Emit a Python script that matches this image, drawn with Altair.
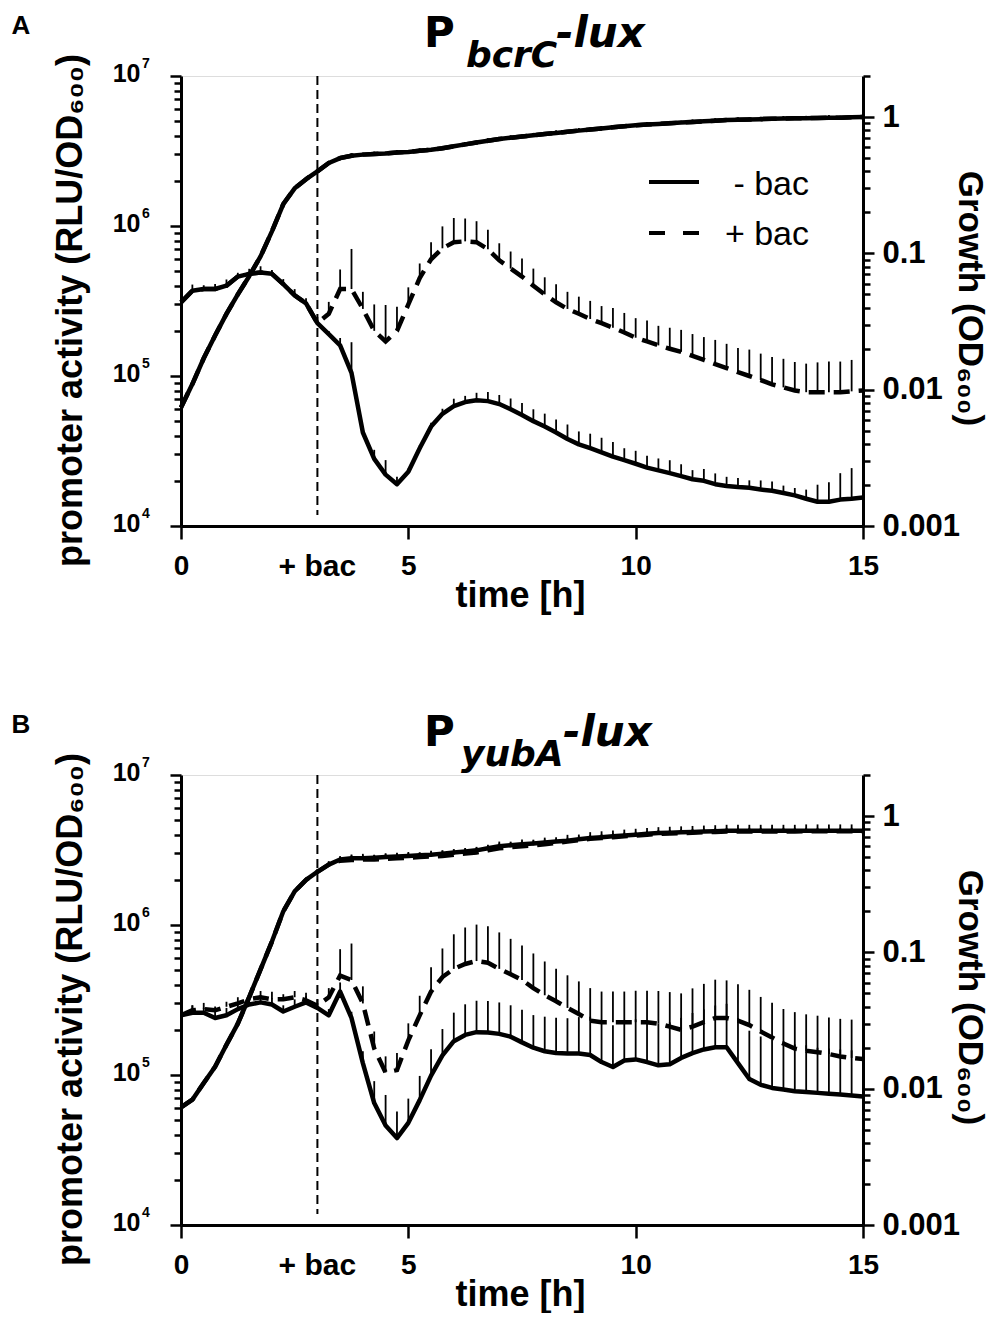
import altair as alt
import pandas as pd

# ---------------- data ----------------
TIME = [0, 0.25, 0.5, 0.75, 1, 1.25, 1.5, 1.75, 2, 2.25, 2.5, 2.75,
        3, 3.25, 3.5, 3.75, 4, 4.25, 4.5, 4.75, 5, 5.25, 5.5, 5.75,
        6, 6.25, 6.5, 6.75, 7, 7.25, 7.5, 7.75, 8, 8.25, 8.5, 8.75,
        9, 9.25, 9.5, 9.75, 10, 10.25, 10.5, 10.75, 11, 11.25, 11.5, 11.75,
        12, 12.25, 12.5, 12.75, 13, 13.25, 13.5, 13.75, 14, 14.25, 14.5, 14.75, 15]

CONDITIONS = ["- bac", "+ bac"]
ADD_TIME = 3
ADD_LABEL = "+ bac"

# Panel A  (P_bcrC-lux)
A_ACT_MINUS = [3.1e5, 3.7e5, 3.8e5, 3.8e5, 4.0e5, 4.6e5, 4.8e5, 4.9e5, 4.8e5, 4.1e5, 3.45e5, 3.05e5,
               2.25e5, 1.9e5, 1.6e5, 1.05e5, 4.2e4, 2.8e4, 2.2e4, 1.9e4, 2.3e4, 3.3e4, 4.6e4, 5.6e4,
               6.3e4, 6.7e4, 6.9e4, 6.8e4, 6.5e4, 6.0e4, 5.5e4, 5.0e4, 4.6e4, 4.2e4, 3.8e4, 3.5e4,
               3.3e4, 3.1e4, 2.9e4, 2.75e4, 2.6e4, 2.45e4, 2.35e4, 2.25e4, 2.15e4, 2.05e4, 2.0e4, 1.9e4,
               1.85e4, 1.82e4, 1.8e4, 1.75e4, 1.72e4, 1.66e4, 1.6e4, 1.52e4, 1.45e4, 1.45e4, 1.5e4, 1.52e4, 1.55e4]
A_ACT_PLUS = [3.1e5, 3.7e5, 3.8e5, 3.8e5, 4.0e5, 4.6e5, 4.8e5, 4.9e5, 4.8e5, 4.1e5, 3.45e5, 3.05e5,
              2.25e5, 2.6e5, 3.8e5, 3.8e5, 2.8e5, 2.0e5, 1.7e5, 2.0e5, 3.0e5, 4.5e5, 6.0e5, 7.1e5,
              7.8e5, 7.9e5, 7.8e5, 7.0e5, 5.9e5, 5.2e5, 4.6e5, 4.0e5, 3.5e5, 3.1e5, 2.8e5, 2.6e5,
              2.4e5, 2.25e5, 2.1e5, 1.95e5, 1.8e5, 1.7e5, 1.6e5, 1.52e5, 1.45e5, 1.36e5, 1.28e5, 1.2e5,
              1.13e5, 1.06e5, 1.0e5, 9.4e4, 8.8e4, 8.4e4, 8.0e4, 7.8e4, 7.8e4, 7.8e4, 7.8e4, 7.9e4, 8.0e4]
A_OD_MINUS = [0.0074, 0.011, 0.017, 0.025, 0.036, 0.05, 0.068, 0.095, 0.145, 0.23, 0.3, 0.35,
              0.40, 0.46, 0.50, 0.52, 0.53, 0.535, 0.54, 0.55, 0.555, 0.565, 0.575, 0.59,
              0.61, 0.63, 0.65, 0.67, 0.69, 0.705, 0.72, 0.735, 0.75, 0.765, 0.78, 0.795,
              0.81, 0.825, 0.84, 0.855, 0.87, 0.88, 0.89, 0.90, 0.91, 0.92, 0.93, 0.94,
              0.95, 0.955, 0.96, 0.965, 0.97, 0.975, 0.98, 0.98, 0.985, 0.99, 0.99, 0.995, 1.0]
A_OD_PLUS = A_OD_MINUS  # the two growth curves coincide in panel A

# upper error bar as ratio (top / mean)
A_ACT_MINUS_ERR = [1.08, 1.1, 1.06, 1.08, 1.1, 1.06, 1.08, 1.1, 1.06, 1.08, 1.1, 1.08,
                   1.1, 1.05, 1.12, 1.6, 1.05, 1.15, 1.25, 1.12, 1.05, 1.05, 1.06, 1.08,
                   1.12, 1.1, 1.12, 1.15, 1.15, 1.18, 1.2, 1.2, 1.22, 1.22, 1.25, 1.22,
                   1.25, 1.25, 1.25, 1.2, 1.22, 1.2, 1.2, 1.22, 1.2, 1.15, 1.2, 1.18,
                   1.15, 1.15, 1.12, 1.15, 1.15, 1.12, 1.12, 1.15, 1.3, 1.35, 1.5, 1.6, 1.3]
A_ACT_PLUS_ERR = [1.0, 1.0, 1.0, 1.0, 1.0, 1.0, 1.0, 1.0, 1.0, 1.0, 1.0, 1.0,
                  1.0, 1.2, 1.35, 1.85, 1.3, 1.5, 1.75, 1.45, 1.3, 1.25, 1.3, 1.4,
                  1.45, 1.42, 1.38, 1.35, 1.3, 1.3, 1.32, 1.3, 1.3, 1.32, 1.3, 1.3,
                  1.32, 1.3, 1.35, 1.35, 1.35, 1.38, 1.35, 1.38, 1.4, 1.4, 1.42, 1.45,
                  1.45, 1.45, 1.5, 1.5, 1.52, 1.55, 1.55, 1.55, 1.58, 1.6, 1.6, 1.62, 1.6]
A_OD_MINUS_ERR = [1.02, 1.02, 1.02, 1.02, 1.02, 1.02, 1.02, 1.02, 1.02, 1.02, 1.02, 1.02,
                  1.03, 1.03, 1.03, 1.04, 1.03, 1.04, 1.03, 1.04, 1.03, 1.04, 1.03, 1.04,
                  1.03, 1.04, 1.03, 1.04, 1.03, 1.04, 1.03, 1.04, 1.03, 1.04, 1.03, 1.04,
                  1.03, 1.04, 1.03, 1.04, 1.03, 1.04, 1.03, 1.04, 1.03, 1.04, 1.03, 1.04,
                  1.03, 1.04, 1.03, 1.04, 1.03, 1.04, 1.03, 1.04, 1.03, 1.04, 1.03, 1.04, 1.03]
A_OD_PLUS_ERR = A_OD_MINUS_ERR

# Panel B  (P_yubA-lux)
B_ACT_MINUS = [2.5e5, 2.6e5, 2.6e5, 2.4e5, 2.5e5, 2.75e5, 2.95e5, 3.05e5, 2.95e5, 2.65e5, 2.85e5, 3.05e5,
               2.8e5, 2.5e5, 3.6e5, 2.4e5, 1.2e5, 6.5e4, 4.6e4, 3.8e4, 4.8e4, 6.8e4, 9.9e4, 1.35e5,
               1.68e5, 1.85e5, 1.93e5, 1.92e5, 1.88e5, 1.8e5, 1.65e5, 1.52e5, 1.44e5, 1.4e5, 1.39e5, 1.39e5,
               1.36e5, 1.22e5, 1.13e5, 1.25e5, 1.27e5, 1.22e5, 1.16e5, 1.18e5, 1.3e5, 1.4e5, 1.48e5, 1.53e5,
               1.53e5, 1.2e5, 9.4e4, 8.6e4, 8.2e4, 8.0e4, 7.8e4, 7.7e4, 7.6e4, 7.5e4, 7.4e4, 7.3e4, 7.2e4]
B_ACT_PLUS = [2.5e5, 2.7e5, 2.75e5, 2.7e5, 2.85e5, 3.0e5, 3.2e5, 3.3e5, 3.2e5, 3.2e5, 3.3e5, 3.15e5,
              2.9e5, 3.3e5, 4.6e5, 4.3e5, 3.0e5, 1.5e5, 1.04e5, 1.08e5, 1.7e5, 2.5e5, 3.6e5, 4.5e5,
              5.1e5, 5.5e5, 5.75e5, 5.6e5, 5.1e5, 4.7e5, 4.3e5, 3.8e5, 3.4e5, 3.1e5, 2.8e5, 2.55e5,
              2.3e5, 2.25e5, 2.25e5, 2.25e5, 2.25e5, 2.25e5, 2.2e5, 2.1e5, 2.0e5, 2.1e5, 2.25e5, 2.4e5,
              2.4e5, 2.3e5, 2.15e5, 1.95e5, 1.78e5, 1.62e5, 1.5e5, 1.45e5, 1.42e5, 1.38e5, 1.33e5, 1.3e5, 1.28e5]
B_OD_MINUS = [0.0073, 0.0083, 0.011, 0.0145, 0.021, 0.03, 0.047, 0.075, 0.12, 0.2, 0.28, 0.34,
              0.39, 0.44, 0.48, 0.49, 0.49, 0.495, 0.5, 0.505, 0.51, 0.515, 0.52, 0.53,
              0.54, 0.55, 0.56, 0.58, 0.60, 0.61, 0.62, 0.63, 0.64, 0.65, 0.66, 0.675,
              0.69, 0.70, 0.71, 0.72, 0.73, 0.74, 0.75, 0.755, 0.76, 0.765, 0.77, 0.775,
              0.78, 0.78, 0.78, 0.78, 0.78, 0.78, 0.78, 0.78, 0.78, 0.78, 0.78, 0.78, 0.78]
B_OD_PLUS = [0.0073, 0.0083, 0.011, 0.0145, 0.021, 0.03, 0.047, 0.075, 0.12, 0.2, 0.28, 0.34,
             0.39, 0.44, 0.47, 0.475, 0.48, 0.48, 0.485, 0.49, 0.495, 0.50, 0.505, 0.51,
             0.52, 0.53, 0.54, 0.56, 0.58, 0.59, 0.60, 0.61, 0.62, 0.635, 0.65, 0.665,
             0.68, 0.69, 0.70, 0.71, 0.72, 0.73, 0.74, 0.745, 0.75, 0.755, 0.76, 0.765,
             0.77, 0.77, 0.77, 0.77, 0.77, 0.77, 0.77, 0.775, 0.775, 0.775, 0.775, 0.775, 0.775]
B_ACT_MINUS_ERR = [1.1, 1.12, 1.08, 1.1, 1.12, 1.1, 1.08, 1.12, 1.1, 1.1, 1.12, 1.1,
                   1.08, 1.1, 1.15, 1.1, 1.2, 1.4, 1.6, 1.5, 1.45, 1.45, 1.5, 1.5,
                   1.55, 1.6, 1.62, 1.62, 1.62, 1.62, 1.65, 1.65, 1.7, 1.72, 1.72, 1.75,
                   1.8, 1.85, 1.9, 1.85, 1.85, 1.85, 1.9, 1.9, 1.85, 1.85, 1.85, 1.9,
                   1.95, 2.0, 2.1, 2.1, 2.1, 2.1, 2.05, 2.05, 2.0, 2.0, 2.0, 2.0, 1.95]
B_ACT_PLUS_ERR = [1.05, 1.08, 1.1, 1.06, 1.08, 1.1, 1.08, 1.1, 1.12, 1.08, 1.1, 1.12,
                  1.1, 1.15, 1.5, 1.75, 1.3, 1.3, 1.28, 1.3, 1.3, 1.35, 1.45, 1.55,
                  1.7, 1.75, 1.75, 1.75, 1.75, 1.72, 1.7, 1.7, 1.68, 1.65, 1.65, 1.65,
                  1.65, 1.6, 1.6, 1.6, 1.62, 1.62, 1.65, 1.7, 1.75, 1.8, 1.8, 1.8,
                  1.78, 1.75, 1.72, 1.7, 1.7, 1.7, 1.75, 1.75, 1.75, 1.75, 1.78, 1.8, 1.8]
B_OD_MINUS_ERR = [1.02, 1.02, 1.02, 1.02, 1.02, 1.02, 1.02, 1.02, 1.02, 1.02, 1.02, 1.03,
                  1.04, 1.05, 1.05, 1.05, 1.05, 1.05, 1.05, 1.05, 1.05, 1.05, 1.05, 1.05,
                  1.05, 1.05, 1.05, 1.05, 1.05, 1.05, 1.05, 1.05, 1.05, 1.05, 1.05, 1.05,
                  1.05, 1.05, 1.05, 1.05, 1.05, 1.05, 1.05, 1.05, 1.05, 1.05, 1.05, 1.05,
                  1.05, 1.05, 1.05, 1.05, 1.05, 1.05, 1.05, 1.05, 1.05, 1.05, 1.05, 1.05, 1.05]
B_OD_PLUS_ERR = [1.02, 1.02, 1.02, 1.02, 1.02, 1.02, 1.02, 1.02, 1.02, 1.02, 1.03, 1.04,
                 1.05, 1.06, 1.08, 1.1, 1.1, 1.08, 1.1, 1.1, 1.1, 1.08, 1.1, 1.1,
                 1.1, 1.1, 1.1, 1.1, 1.12, 1.1, 1.12, 1.1, 1.12, 1.1, 1.12, 1.1,
                 1.12, 1.12, 1.12, 1.12, 1.12, 1.12, 1.12, 1.12, 1.12, 1.12, 1.12, 1.12,
                 1.12, 1.12, 1.12, 1.12, 1.12, 1.12, 1.12, 1.12, 1.12, 1.12, 1.12, 1.12, 1.12]

LEFT_TICK_VALUES = [10000, 100000, 1000000, 10000000]
LEFT_TICK_LABELS = ["10", "10", "10", "10"]
LEFT_TICK_EXPONENTS = ["4", "5", "6", "7"]
RIGHT_TICK_VALUES = [0.001, 0.01, 0.1, 1]
RIGHT_TICK_LABELS = ["0.001", "0.01", "0.1", "1"]
X_TICKS = [0, 5, 10, 15]

TITLE_A = ["P", "bcrC", "-lux"]
TITLE_B = ["P", "yubA", "-lux"]
X_TITLE = "time [h]"
LEFT_TITLE = "promoter activity (RLU/OD\u2086\u2080\u2080)"
RIGHT_TITLE = "Growth (OD\u2086\u2080\u2080)"

# ---------------- build ----------------
W, H = 682, 450
FONT = "Liberation Sans"


def panel_df(act_m, act_p, od_m, od_p, e_am, e_ap, e_om, e_op):
    rows = []
    for cond, act, od, ea, eo in [(CONDITIONS[0], act_m, od_m, e_am, e_om),
                                  (CONDITIONS[1], act_p, od_p, e_ap, e_op)]:
        assert len(act) == len(TIME) == len(od) == len(ea) == len(eo)
        for t, a, o, fa, fo in zip(TIME, act, od, ea, eo):
            rows.append(dict(t=t, cond=cond, act=a, act_hi=a * fa, od=o, od_hi=o * fo))
    return pd.DataFrame(rows)


def minor_values(decades):
    vals = []
    for e in decades:
        for k in range(1, 10):
            vals.append(round(k * 10.0 ** e, 6))
    return vals


def label_expr(values, labels):
    expr = "''"
    for v, l in reversed(list(zip(values, labels))):
        expr = f"datum.value == {v} ? '{l}' : ({expr})"
    return expr


def major_test(values):
    return " || ".join(f"datum.value == {v}" for v in values)


left_axis = alt.Axis(
    orient="left", values=minor_values([4, 5, 6]) + [10000000],
    labelExpr=label_expr(LEFT_TICK_VALUES, LEFT_TICK_LABELS),
    grid=False, domainWidth=3, domainColor="black", tickColor="black", tickWidth=2.5,
    tickSize={"condition": {"test": major_test(LEFT_TICK_VALUES), "value": 11}, "value": 7},
    labelFont=FONT, labelFontSize=25, labelFontWeight="bold", labelColor="black",
    labelPadding=30, labelOffset=-3, labelFlush=False, labelOverlap=False,
    title=LEFT_TITLE, titleFont=FONT, titleFontSize=36, titleFontWeight="bold", titleColor="black",
    titleAngle=270, titleX=-100, titleY=234, titleAlign="center", titleBaseline="alphabetic",
)
right_axis = alt.Axis(
    orient="right", values=minor_values([-3, -2, -1]) + [1, 2],
    labelExpr=label_expr(RIGHT_TICK_VALUES, RIGHT_TICK_LABELS),
    grid=False, domainWidth=3, domainColor="black", tickColor="black", tickWidth=2.5,
    tickSize={"condition": {"test": major_test(RIGHT_TICK_VALUES), "value": 11}, "value": 7},
    labelFont=FONT, labelFontSize=31, labelFontWeight="bold", labelColor="black",
    labelPadding=8, labelFlush=False, labelOverlap=False,
    title=RIGHT_TITLE, titleFont=FONT, titleFontSize=35, titleFontWeight="bold", titleColor="black",
    titleAngle=90, titleX=95, titleY=222, titleAlign="center", titleBaseline="alphabetic",
)
x_axis = alt.Axis(
    values=X_TICKS, grid=False, domainWidth=3, domainColor="black", tickColor="black",
    tickWidth=2.5, tickSize=13, labelFont=FONT, labelFontSize=28, labelFontWeight="bold",
    labelColor="black", labelBaseline="alphabetic", labelPadding=35, labelFlush=False,
    title=X_TITLE, titleFont=FONT, titleFontSize=36, titleFontWeight="bold", titleColor="black",
    titleX=339, titleY=80, titleAlign="center", titleBaseline="alphabetic",
)

X = alt.X("t:Q", scale=alt.Scale(domain=[0, 15], nice=False, zero=False), axis=x_axis)
Y_ACT = alt.Y("act:Q", scale=alt.Scale(type="log", domain=[1e4, 1e7], nice=False), axis=left_axis)
Y_OD = alt.Y("od:Q", scale=alt.Scale(type="log", domain=[0.001, 2], nice=False), axis=right_axis)

DASH = [16, 9]
LW = 4.5


def txt(label, x, y, size, weight="bold", style="normal", font=FONT, align="left", baseline="alphabetic"):
    return alt.Chart(pd.DataFrame({"label": [label]})).mark_text(
        align=align, baseline=baseline, fontSize=size, fontWeight=weight, fontStyle=style,
        font=font, color="black").encode(text="label:N", x=alt.value(x), y=alt.value(y))


def panel(df, letter, title, title_x, show_legend):
    base = alt.Chart(df)
    solid = alt.datum.cond == CONDITIONS[0]
    dashed = alt.datum.cond == CONDITIONS[1]
    exp_df = pd.DataFrame({"act": LEFT_TICK_VALUES, "label": LEFT_TICK_EXPONENTS})
    act = alt.layer(
        base.mark_rule(strokeWidth=1.8, color="black").encode(x=X, y=Y_ACT, y2=alt.Y2("act_hi")),
        base.transform_filter(solid).mark_line(strokeWidth=LW, color="black", strokeJoin="round").encode(x=X, y=Y_ACT),
        base.transform_filter(dashed).mark_line(strokeWidth=LW, color="black", strokeDash=DASH).encode(x=X, y=Y_ACT),
        alt.Chart(exp_df).mark_text(align="left", baseline="alphabetic", dy=-8, fontSize=14,
                                    fontWeight="bold", font=FONT, color="black").encode(
            x=alt.value(-39), y=Y_ACT, text="label:N"),
    )
    od = alt.layer(
        base.mark_rule(strokeWidth=1.8, color="black").encode(x=X, y=Y_OD, y2=alt.Y2("od_hi")),
        base.transform_filter(solid).mark_line(strokeWidth=LW, color="black", strokeJoin="round").encode(x=X, y=Y_OD),
        base.transform_filter(dashed).mark_line(strokeWidth=LW, color="black", strokeDash=DASH).encode(x=X, y=Y_OD),
    )
    add_df = pd.DataFrame({"t": [ADD_TIME], "label": [ADD_LABEL]})
    vline = alt.Chart(add_df).mark_rule(strokeDash=[9, 5], strokeWidth=2, color="black").encode(
        x=X, y=alt.value(0), y2=alt.value(439))
    add_lbl = alt.Chart(add_df).mark_text(fontSize=30, fontWeight="bold", font=FONT, color="black",
                                          align="center", baseline="alphabetic").encode(
        x=X, y=alt.value(H + 50), text="label:N")
    layers = [act, od, vline, add_lbl,
              txt(letter, -160, -50, 26, align="center", baseline="middle"),
              txt(title[0], title_x[0], -29, 42, font="DejaVu Sans"),
              txt(title[1], title_x[1], -9, 36, style="italic", font="DejaVu Sans"),
              txt(title[2], title_x[2], -29, 42, style="italic", font="DejaVu Sans")]
    if show_legend:
        leg = pd.DataFrame({"label": CONDITIONS})
        layers += [
            alt.Chart(leg.iloc[[0]]).mark_rule(strokeWidth=4, color="black").encode(
                x=alt.value(468), x2=alt.value(518), y=alt.value(106)),
            alt.Chart(leg.iloc[[1]]).mark_rule(strokeWidth=4, color="black", strokeDash=[16, 18]).encode(
                x=alt.value(468), x2=alt.value(518), y=alt.value(157)),
            txt(CONDITIONS[0], 628, 119, 34, weight="normal", align="right"),
            txt(CONDITIONS[1], 628, 169, 34, weight="normal", align="right"),
        ]
    return alt.layer(*layers).resolve_scale(y="independent").properties(width=W, height=H)


dfA = panel_df(A_ACT_MINUS, A_ACT_PLUS, A_OD_MINUS, A_OD_PLUS,
               A_ACT_MINUS_ERR, A_ACT_PLUS_ERR, A_OD_MINUS_ERR, A_OD_PLUS_ERR)
dfB = panel_df(B_ACT_MINUS, B_ACT_PLUS, B_OD_MINUS, B_OD_PLUS,
               B_ACT_MINUS_ERR, B_ACT_PLUS_ERR, B_OD_MINUS_ERR, B_OD_PLUS_ERR)

pA = panel(dfA, "A", TITLE_A, [243, 285, 375], True)
pB = panel(dfB, "B", TITLE_B, [243, 280, 382], False)

chart = alt.vconcat(pA, pB, spacing=97).properties(
    padding={"left": 3, "top": 4, "right": 5, "bottom": 0}
).configure_view(stroke=None).configure(background="white")

chart.save("out.html", embed_options={"renderer": "svg", "actions": False})
